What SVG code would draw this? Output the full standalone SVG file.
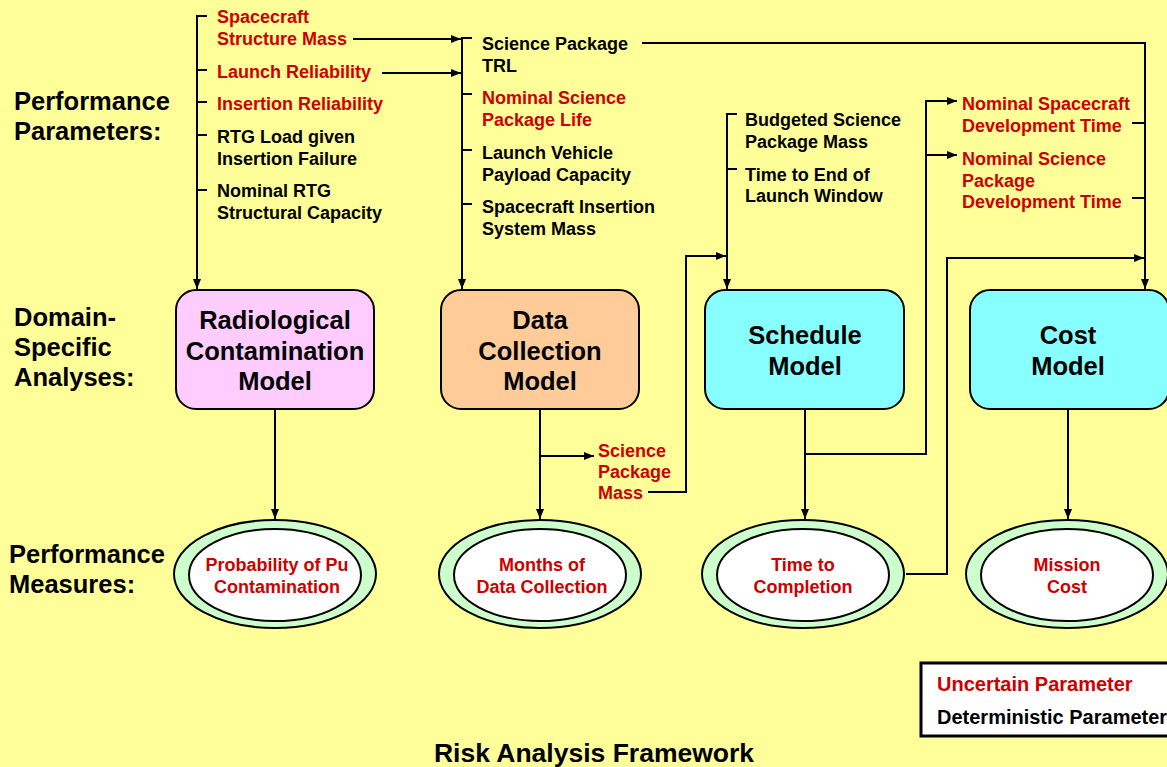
<svg xmlns="http://www.w3.org/2000/svg" width="1167" height="767" viewBox="0 0 1167 767">
  <defs>
    <marker id="arrow" markerWidth="10" markerHeight="8" refX="10" refY="4" orient="auto" markerUnits="userSpaceOnUse">
      <path d="M0,0 L10,4 L0,8 Z" fill="#000"/>
    </marker>
    <style>
      text { font-family: "Liberation Sans", Arial, sans-serif; font-weight: bold; }
      .p { font-size: 18px; }
      .red { fill: #CC0000; }
      .blk { fill: #000; }
      .lbl { font-size: 25.5px; fill: #000; }
      .box { stroke: #000; stroke-width: 2; }
      .btxt { font-size: 25.5px; fill: #000; text-anchor: middle; }
      .etxt { font-size: 18px; fill: #CC0000; text-anchor: middle; }
      .leg { font-size: 20px; }
      .outer { fill: #CCFFCC; stroke: #000; stroke-width: 2; }
      .inner { fill: #FFFFFF; stroke: #000; stroke-width: 2; }
      .ln { fill: none; stroke: #000; stroke-width: 2; }
      .arr { fill: none; stroke: #000; stroke-width: 2; marker-end: url(#arrow); }
    </style>
  </defs>

  <rect x="0" y="0" width="1167" height="767" fill="#FFFF99"/>

  <!-- Row labels -->
  <g id="row-labels">
    <text class="lbl" x="14" y="110">Performance</text>
    <text class="lbl" x="14" y="140">Parameters:</text>
    <text class="lbl" x="14" y="326">Domain-</text>
    <text class="lbl" x="14" y="356">Specific</text>
    <text class="lbl" x="14" y="386">Analyses:</text>
    <text class="lbl" x="9" y="563">Performance</text>
    <text class="lbl" x="9" y="593">Measures:</text>
  </g>

  <!-- Connectors -->
  <g id="connectors">
    <!-- Radiological parameter bracket -->
    <path class="arr" d="M207,16 H197 V289"/>
    <path class="ln" d="M197,70 H207 M197,102 H207 M197,135 H207 M197,190 H207"/>
    <!-- Data collection parameter bracket -->
    <path class="arr" d="M472,38 H462 V289"/>
    <path class="ln" d="M462,94 H472 M462,150 H472 M462,204 H472"/>
    <path class="arr" d="M353,39 H461"/>
    <path class="arr" d="M382,73 H461"/>
    <!-- Science Package TRL to cost -->
    <path class="arr" d="M642,43 H1145 V289"/>
    <path class="ln" d="M1132,123 H1145 M1132,198 H1145"/>
    <!-- Schedule parameter bracket -->
    <path class="arr" d="M737,114 H727 V289"/>
    <path class="ln" d="M727,169 H737"/>
    <!-- Science package mass to schedule -->
    <path class="arr" d="M648,492 H686 V256 H726"/>
    <!-- Model outputs -->
    <path class="arr" d="M275,410 V519"/>
    <path class="arr" d="M540,410 V519"/>
    <path class="arr" d="M540,456 H594"/>
    <path class="arr" d="M805,410 V519"/>
    <path class="arr" d="M805,454 H926 V101 H957"/>
    <path class="arr" d="M926,155 H957"/>
    <path class="arr" d="M1068,410 V519"/>
    <!-- Time to completion to cost -->
    <path class="arr" d="M906,574 H947 V258 H1144"/>
  </g>

  <!-- Parameter text columns -->
  <g id="params-radiological">
    <text class="p red" x="217" y="23">Spacecraft</text>
    <text class="p red" x="217" y="45">Structure Mass</text>
    <text class="p red" x="217" y="78">Launch Reliability</text>
    <text class="p red" x="217" y="110">Insertion Reliability</text>
    <text class="p blk" x="217" y="143">RTG Load given</text>
    <text class="p blk" x="217" y="165">Insertion Failure</text>
    <text class="p blk" x="217" y="197">Nominal RTG</text>
    <text class="p blk" x="217" y="219">Structural Capacity</text>
  </g>
  <g id="params-data">
    <text class="p blk" x="482" y="50">Science Package</text>
    <text class="p blk" x="482" y="72">TRL</text>
    <text class="p red" x="482" y="104">Nominal Science</text>
    <text class="p red" x="482" y="126">Package Life</text>
    <text class="p blk" x="482" y="159">Launch Vehicle</text>
    <text class="p blk" x="482" y="181">Payload Capacity</text>
    <text class="p blk" x="482" y="213">Spacecraft Insertion</text>
    <text class="p blk" x="482" y="235">System Mass</text>
  </g>
  <g id="params-schedule">
    <text class="p blk" x="745" y="126">Budgeted Science</text>
    <text class="p blk" x="745" y="148">Package Mass</text>
    <text class="p blk" x="745" y="181">Time to End of</text>
    <text class="p blk" x="745" y="202">Launch Window</text>
  </g>
  <g id="params-cost">
    <text class="p red" x="962" y="110">Nominal Spacecraft</text>
    <text class="p red" x="962" y="132">Development Time</text>
    <text class="p red" x="962" y="165">Nominal Science</text>
    <text class="p red" x="962" y="187">Package</text>
    <text class="p red" x="962" y="208">Development Time</text>
  </g>
  <g id="param-science-mass">
    <text class="p red" x="598" y="457">Science</text>
    <text class="p red" x="598" y="478">Package</text>
    <text class="p red" x="598" y="499">Mass</text>
  </g>

  <!-- Models -->
  <g id="model-radiological">
    <rect class="box" x="176" y="290" width="198" height="119" rx="20" fill="#FFCCFF"/>
    <text class="btxt" x="275" y="329">Radiological</text>
    <text class="btxt" x="275" y="360">Contamination</text>
    <text class="btxt" x="275" y="390">Model</text>
  </g>
  <g id="model-data">
    <rect class="box" x="441" y="290" width="198" height="119" rx="20" fill="#FFCC99"/>
    <text class="btxt" x="540" y="329">Data</text>
    <text class="btxt" x="540" y="360">Collection</text>
    <text class="btxt" x="540" y="390">Model</text>
  </g>
  <g id="model-schedule">
    <rect class="box" x="705" y="290" width="199" height="119" rx="20" fill="#88FFFF"/>
    <text class="btxt" x="805" y="344">Schedule</text>
    <text class="btxt" x="805" y="375">Model</text>
  </g>
  <g id="model-cost">
    <rect class="box" x="970" y="290" width="199" height="119" rx="20" fill="#88FFFF"/>
    <text class="btxt" x="1068" y="344">Cost</text>
    <text class="btxt" x="1068" y="375">Model</text>
  </g>

  <!-- Measures -->
  <g id="measure-contamination">
    <ellipse class="outer" cx="275" cy="574" rx="101" ry="54"/>
    <ellipse class="inner" cx="275" cy="575" rx="86" ry="46"/>
    <text class="etxt" x="277" y="571">Probability of Pu</text>
    <text class="etxt" x="277" y="593">Contamination</text>
  </g>
  <g id="measure-data">
    <ellipse class="outer" cx="540" cy="574" rx="101" ry="54"/>
    <ellipse class="inner" cx="540" cy="575" rx="86" ry="46"/>
    <text class="etxt" x="542" y="571">Months of</text>
    <text class="etxt" x="542" y="593">Data Collection</text>
  </g>
  <g id="measure-time">
    <ellipse class="outer" cx="803" cy="574" rx="101" ry="54"/>
    <ellipse class="inner" cx="803" cy="575" rx="86" ry="46"/>
    <text class="etxt" x="803" y="571">Time to</text>
    <text class="etxt" x="803" y="593">Completion</text>
  </g>
  <g id="measure-cost">
    <ellipse class="outer" cx="1067" cy="574" rx="101" ry="54"/>
    <ellipse class="inner" cx="1067" cy="575" rx="86" ry="46"/>
    <text class="etxt" x="1067" y="571">Mission</text>
    <text class="etxt" x="1067" y="593">Cost</text>
  </g>

  <!-- Legend -->
  <g id="legend">
    <rect x="921" y="663" width="260" height="73" fill="#FFFFFF" stroke="#000" stroke-width="3"/>
    <text class="leg red" x="937" y="691">Uncertain Parameter</text>
    <text class="leg blk" x="937" y="724">Deterministic Parameter</text>
  </g>

  <text x="594" y="762" font-size="26.5" text-anchor="middle" fill="#000">Risk Analysis Framework</text>
</svg>
